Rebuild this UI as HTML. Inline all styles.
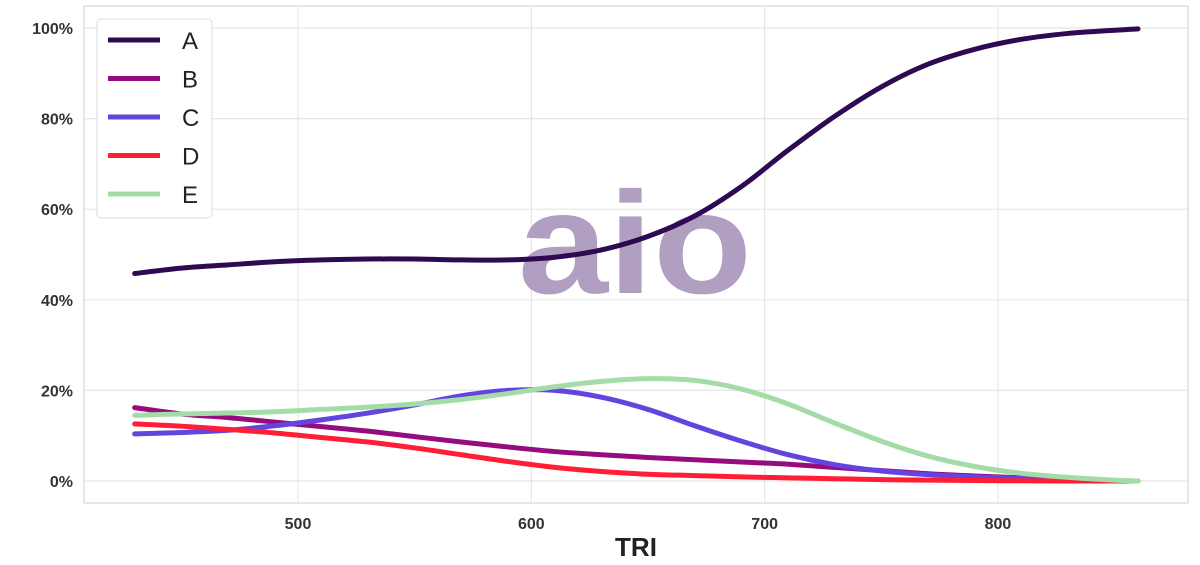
<!DOCTYPE html>
<html><head><meta charset="utf-8"><style>
body{margin:0;background:#fff;}
svg text{font-family:"Liberation Sans","DejaVu Sans",sans-serif;}
</style></head><body>
<svg id="chart" width="1200" height="560">
<rect x="84" y="6" width="1104" height="497" fill="#fff" stroke="#ccc" stroke-width="1"/>
<g id="grid"></g>
<text x="518" y="293" textLength="234" lengthAdjust="spacingAndGlyphs" font-size="145" font-weight="bold" fill="#b09fc0">aio</text>
<g id="lines"></g>
<g id="ticks"></g>
<text x="636" y="556" text-anchor="middle" font-size="26" font-weight="bold" fill="#222">TRI</text>
<g id="legend"></g>
</svg>
<script>
const xs=[430,450,470,490,510,530,550,570,590,610,630,650,670,690,710,730,750,770,790,810,830,850,860];
const seriesA=[45.8,47,47.7,48.4,48.8,49,49,48.8,48.8,49.4,51,54,58.5,65,73,80.5,87,92,95.3,97.5,98.8,99.5,99.8];
const seriesB=[16.2,14.8,14,13,12,11,9.8,8.6,7.5,6.5,5.8,5.2,4.7,4.2,3.7,3,2.3,1.6,1.1,0.7,0.3,0.05,0];
const seriesC=[10.4,10.7,11.2,12.2,13.5,15,16.8,18.8,20,20,18.5,15.8,12.2,8.8,5.8,3.6,2.2,1.4,0.9,0.6,0.3,0.05,0];
const seriesD=[12.6,12.1,11.4,10.6,9.6,8.6,7.3,5.8,4.3,3,2.1,1.5,1.2,0.9,0.7,0.5,0.3,0.2,0.1,0.05,0,0,0];
const seriesE=[14.5,14.8,15,15.3,15.8,16.3,17,18,19.3,20.8,22,22.6,22.2,20.3,17,12.8,8.8,5.5,3.2,1.7,0.8,0.2,0];
const names=["A","B","C","D","E"];
const colors=["#2d0a52","#960c7e","#6245e0","#ff1e35","#a4dca8"];
const xTicks=[500,600,700,800];
const yTicks=[0,20,40,60,80,100];
const X=v=>298+(v-500)*2.3333;
const Y=v=>481-v*4.53;
const NS="http://www.w3.org/2000/svg";
const grid=document.getElementById('grid'),ticks=document.getElementById('ticks');
xTicks.forEach(t=>{
 const l=document.createElementNS(NS,'line');
 l.setAttribute('x1',X(t));l.setAttribute('x2',X(t));l.setAttribute('y1',6);l.setAttribute('y2',503);
 l.setAttribute('stroke','#e6e6e6');l.setAttribute('stroke-width','1.2');
 
 
 grid.appendChild(l);
 const tx=document.createElementNS(NS,'text');
 tx.setAttribute('x',X(t));tx.setAttribute('y',529);tx.setAttribute('text-anchor','middle');
 tx.setAttribute('font-size','16');tx.setAttribute('font-weight','bold');tx.setAttribute('fill','#333');
 tx.textContent=t;
 
 
 ticks.appendChild(tx);
});
yTicks.forEach(t=>{
 const l=document.createElementNS(NS,'line');
 l.setAttribute('x1',84);l.setAttribute('x2',1188);l.setAttribute('y1',Y(t));l.setAttribute('y2',Y(t));
 l.setAttribute('stroke','#e6e6e6');l.setAttribute('stroke-width','1.2');
 
 
 grid.appendChild(l);
 const tx=document.createElementNS(NS,'text');
 tx.setAttribute('x',73);tx.setAttribute('y',Y(t)+6);tx.setAttribute('text-anchor','end');
 tx.setAttribute('font-size','16');tx.setAttribute('font-weight','bold');tx.setAttribute('fill','#333');
 tx.textContent=t+'%';
 
 
 ticks.appendChild(tx);
});
function smooth(pts){
 let d='M'+pts[0][0]+','+pts[0][1];
 for(let i=0;i<pts.length-1;i++){
  const p0=pts[Math.max(0,i-1)],p1=pts[i],p2=pts[i+1],p3=pts[Math.min(pts.length-1,i+2)];
  const c1=[p1[0]+(p2[0]-p0[0])/6,p1[1]+(p2[1]-p0[1])/6];
  const c2=[p2[0]-(p3[0]-p1[0])/6,p2[1]-(p3[1]-p1[1])/6];
  d+=' C'+c1+' '+c2+' '+p2;
 }
 return d;
}
const all=[seriesA,seriesB,seriesC,seriesD,seriesE];
const lines=document.getElementById('lines');
all.forEach((s,k)=>{
 const p=document.createElementNS(NS,'path');
 p.setAttribute('d',smooth(xs.map((x,i)=>[X(x),Y(s[i])])));
 p.setAttribute('fill','none');p.setAttribute('stroke',colors[k]);p.setAttribute('stroke-width','5');
 p.setAttribute('stroke-linecap','round');
 
 
 lines.appendChild(p);
});
const lg=document.getElementById('legend');
const box=document.createElementNS(NS,'rect');
box.setAttribute('x',97);box.setAttribute('y',19);box.setAttribute('width',115);box.setAttribute('height',199);
box.setAttribute('rx',4);box.setAttribute('fill','#fff');box.setAttribute('fill-opacity','0.85');box.setAttribute('stroke','#ddd');


lg.appendChild(box);
names.forEach((n,k)=>{
 const y=40+k*38.5;
 const l=document.createElementNS(NS,'line');
 l.setAttribute('x1',108);l.setAttribute('x2',160);l.setAttribute('y1',y);l.setAttribute('y2',y);
 l.setAttribute('stroke',colors[k]);l.setAttribute('stroke-width','5');
 
 
 lg.appendChild(l);
 const t=document.createElementNS(NS,'text');
 t.setAttribute('x',182);t.setAttribute('y',y+9);t.setAttribute('font-size','24');t.setAttribute('fill','#222');
 t.textContent=n;
 
 
 lg.appendChild(t);
});
</script>
</body></html>
